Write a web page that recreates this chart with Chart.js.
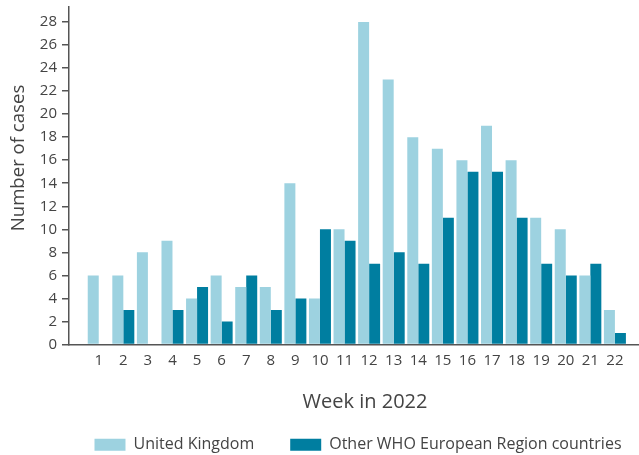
<!DOCTYPE html>
<html>
<head>
<meta charset="utf-8">
<script src="https://cdn.jsdelivr.net/npm/chart.js@4"></script>
<style>
html,body{margin:0;padding:0;background:#fff;}
#wrap{width:639px;height:455px;}
</style>
</head>
<body>
<div id="wrap"><canvas id="c" width="639" height="455"></canvas></div>
<script>
const weeks = [1,2,3,4,5,6,7,8,9,10,11,12,13,14,15,16,17,18,19,20,21,22];
const ukCases = [6,6,8,9,4,6,5,5,14,4,10,28,23,18,17,16,19,16,11,10,6,3];
const otherCases = [0,3,0,3,5,2,6,3,4,10,9,7,8,7,11,15,15,11,7,6,7,1];
const seriesNames = ['United Kingdom','Other WHO European Region countries'];
const yTickValues = [0,2,4,6,8,10,12,14,16,18,20,22,24,26,28];

const FONT = '"Open Sans", sans-serif';
const TXT = '#444';
const AX = '#555';

// Linear scale whose title can be nudged
class ShiftLinear extends Chart.LinearScale {
  drawTitle() {
    const s = this.options.titleShift || {};
    const ctx = this.ctx;
    ctx.save();
    ctx.translate(s.x || 0, s.y || 0);
    super.drawTitle();
    ctx.restore();
  }
}
ShiftLinear.id = 'shiftLinear';
ShiftLinear.defaults = Chart.LinearScale.defaults;
Chart.register(ShiftLinear);

// Nudge the legend horizontally after layout
const legendShift = {
  id: 'legendShift',
  afterLayout(chart, args, opts) {
    const lg = chart.legend;
    if (lg) { lg.left += opts.dx || 0; lg.right += opts.dx || 0; }
  }
};

const toPoints = arr => weeks.map((w,i)=>({x:w,y:arr[i]}));

new Chart(document.getElementById('c'), {
  type: 'bar',
  data: {
    datasets: [
      {label: seriesNames[0], data: toPoints(ukCases), backgroundColor: '#9dd2e0', borderWidth: 0},
      {label: seriesNames[1], data: toPoints(otherCases), backgroundColor: '#007ea0', borderWidth: 0}
    ]
  },
  plugins: [legendShift],
  options: {
    responsive: false,
    animation: false,
    devicePixelRatio: 1,
    layout: {padding: {left: 0, right: 0, top: 7, bottom: 0}},
    datasets: {bar: {categoryPercentage: 0.895, barPercentage: 1.0, grouped: true}},
    plugins: {
      legendShift: {dx: 38.5},
      legend: {
        position: 'bottom',
        maxHeight: 54.15,
        labels: {
          boxWidth: 31, boxHeight: 12, padding: 36,
          color: TXT,
          font: {family: FONT, size: 16}
        }
      },
      tooltip: {enabled: false}
    },
    scales: {
      x: {
        type: 'shiftLinear',
        min: -0.21,
        max: 22.98,
        offset: false,
        grid: {display: false, drawTicks: false},
        border: {display: true, color: AX, width: 1.5},
        afterBuildTicks: s => { s.ticks = weeks.map(v => ({value: v})); },
        ticks: {
          autoSkip: false,
          maxRotation: 0,
          padding: 7,
          color: TXT,
          font: {family: FONT, size: 15},
          callback: v => String(v)
        },
        title: {display: true, text: 'Week in 2022', color: TXT, font: {family: FONT, size: 20}, padding: {top: 4, bottom: 4}},
        titleShift: {x: 11, y: 17},
        afterFit: s => { s.height = 56.35; s.paddingLeft = 0; s.paddingRight = 0; }
      },
      y: {
        type: 'shiftLinear',
        min: 0,
        max: 29.3,
        grid: {
          drawOnChartArea: false,
          tickLength: 7,
          color: AX,
          lineWidth: 1.5
        },
        border: {display: true, color: AX, width: 1.5},
        afterBuildTicks: s => { s.ticks = yTickValues.map(v => ({value: v})); },
        ticks: {
          padding: 5,
          color: TXT,
          font: {family: FONT, size: 15},
          callback: v => String(v)
        },
        title: {display: true, text: 'Number of cases', color: TXT, font: {family: FONT, size: 18.6}, padding: {top: 7.3, bottom: 2}},
        titleShift: {x: 0, y: -17.75},
        afterFit: s => { s.width = 69; s.paddingTop = 0; s.paddingBottom = 0; }
      }
    }
  }
});
</script>
</body>
</html>
